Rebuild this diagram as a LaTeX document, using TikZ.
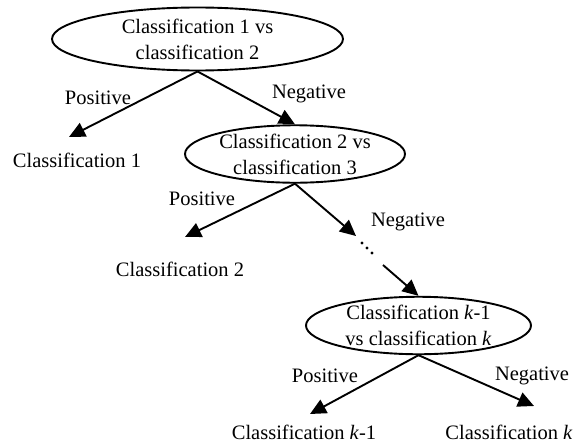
\documentclass[tikz,border=0pt]{standalone}
\usepackage{fontspec}
\setmainfont{Liberation Serif}
\usetikzlibrary{shapes.geometric,arrows.meta}
\begin{document}
\begin{tikzpicture}[x=1pt,y=-1pt,
  every node/.style={font=\fontsize{20.5}{26}\selectfont, inner sep=0pt},
  ell/.style={ellipse, draw, line width=1.9pt, align=center},
  lbl/.style={anchor=center},
  arr/.style={line width=1.9pt, -{Triangle[length=16pt,width=15pt]}}]
\useasboundingbox (0,0) rectangle (580,447);
\node[ell, minimum width=291pt, minimum height=63pt] (e1) at (197.5,39) {Classification 1 vs\\classification 2};
\node[ell, minimum width=220pt, minimum height=56pt] (e2) at (295,154) {Classification 2 vs\\classification 3};
\node[ell, minimum width=225pt, minimum height=55pt] (e3) at (418.5,325.5) {Classification \textit{k}-1\\vs classification \textit{k}};
\node[lbl] (c1) at (77,160) {Classification 1};
\node[lbl] (c2) at (180,269) {Classification 2};
\node[lbl] (ck1) at (304,432) {Classification \textit{k}-1};
\node[lbl] (ck) at (509,432) {Classification \textit{k}};
\node[lbl] (p1) at (98,98) {Positive};
\node[lbl] (n1) at (309,94) {Negative};
\node[lbl] (p2) at (202,199) {Positive};
\node[lbl] (n2) at (408,222) {Negative};
\node[lbl] (p3) at (325,376) {Positive};
\node[lbl] (n3) at (532,376) {Negative};
\coordinate (t1) at (69,137);
\coordinate (t2) at (185,237);
\coordinate (t3) at (356,236);
\coordinate (s4) at (383,265);
\coordinate (t5) at (310,414);
\coordinate (t6) at (534,406);
\draw[arr] (e1.south) -- (t1);
\draw[arr] (e1.south) -- (e2.north);
\draw[arr] (e2.south) -- (t2);
\draw[arr] (e2.south) -- (t3);
\draw[arr] (s4) -- (e3.north);
\draw[arr] (e3.south) -- (t5);
\draw[arr] (e3.south) -- (t6);
\fill (362,243) circle (1.6pt);
\fill (367,248) circle (1.6pt);
\fill (372,253) circle (1.6pt);
\end{tikzpicture}
\end{document}
